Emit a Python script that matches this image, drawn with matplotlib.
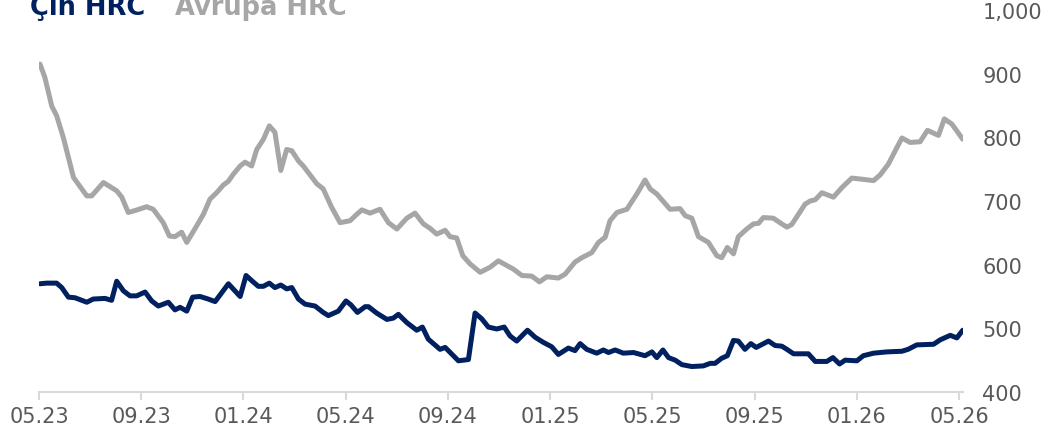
import matplotlib
matplotlib.use("Agg")
import matplotlib.pyplot as plt

plt.rcParams["font.family"] = ["DejaVu Sans"]

# months since 05.2023 (vertices)
eu_months = [0.04, 0.23, 0.50, 0.69, 0.95, 1.35, 1.87, 2.06, 2.52, 3.04, 3.24, 3.49, 3.76, 4.21, 4.47,
             4.86, 5.10, 5.32, 5.58, 5.78, 6.17, 6.43, 6.69, 6.95, 7.21, 7.41, 7.60, 7.87, 8.06, 8.32,
             8.52, 8.78, 9.01, 9.23, 9.46, 9.69, 9.89, 10.15, 10.34, 10.87, 11.12, 11.45, 11.78, 12.17,
             12.43, 12.63, 12.95, 13.34, 13.67, 14.00, 14.39, 14.71, 15.04, 15.30, 15.56, 15.89, 16.08,
             16.34, 16.58, 16.87, 17.26, 17.65, 17.97, 18.56, 18.89, 19.28, 19.58, 19.87, 20.32, 20.58,
             20.97, 21.24, 21.63, 21.89, 22.15, 22.34, 22.61, 23.00, 23.39, 23.71, 23.91, 24.17, 24.69,
             25.08, 25.28, 25.54, 25.80, 26.19, 26.52, 26.71, 26.93, 27.17, 27.36, 27.69, 27.95, 28.15,
             28.34, 28.73, 29.06, 29.26, 29.45, 29.97, 30.17, 30.37, 30.63, 31.08, 31.41, 31.80, 32.25,
             32.65, 32.91, 33.23, 33.50, 33.76, 34.08, 34.47, 34.76, 35.19, 35.42, 35.71, 35.91, 36.14]
eu_hrc = [915, 894, 849, 834, 800, 737, 708, 708, 729, 716, 706, 682, 685, 691, 687,
          666, 645, 644, 651, 635, 661, 679, 703, 713, 725, 731, 742, 755, 761, 755,
          781, 797, 818, 808, 748, 781, 779, 763, 755, 727, 719, 690, 666, 669,
          679, 686, 681, 687, 666, 656, 673, 681, 664, 657, 648, 654, 644,
          642, 614, 601, 588, 596, 606, 593, 583, 582, 573, 581, 579, 585,
          604, 611, 619, 635, 643, 669, 682, 687, 711, 733, 719, 711, 687,
          688, 677, 673, 644, 635, 614, 611, 627, 617, 644, 656, 664, 665,
          674, 673, 664, 659, 663, 695, 700, 702, 713, 706, 721, 736, 734,
          732, 741, 758, 779, 799, 792, 793, 811, 803, 829, 821, 810, 797]

cn_months = [0.04, 0.30, 0.69, 0.89, 1.15, 1.41, 1.87, 2.12, 2.58, 2.84, 3.04, 3.30, 3.56, 3.82, 4.15,
             4.41, 4.67, 5.06, 5.32, 5.52, 5.78, 6.01, 6.30, 6.62, 6.89, 7.41, 7.87, 8.10, 8.32, 8.58,
             8.78, 9.01, 9.23, 9.46, 9.69, 9.89, 10.15, 10.41, 10.80, 11.12, 11.32, 11.71, 12.01, 12.20,
             12.46, 12.76, 12.89, 13.21, 13.61, 13.86, 14.06, 14.39, 14.78, 15.00, 15.23, 15.69, 15.89,
             16.41, 16.80, 17.06, 17.32, 17.58, 17.91, 18.20, 18.43, 18.69, 19.11, 19.41, 19.73, 20.06,
             20.32, 20.71, 20.97, 21.17, 21.43, 21.82, 22.08, 22.28, 22.54, 22.86, 23.26, 23.71, 23.98,
             24.17, 24.41, 24.63, 24.89, 25.15, 25.54, 25.99, 26.26, 26.45, 26.71, 26.93, 27.17, 27.36,
             27.62, 27.85, 28.06, 28.54, 28.80, 29.06, 29.26, 29.52, 30.10, 30.37, 30.82, 31.06, 31.32,
             31.54, 32.00, 32.25, 32.65, 33.17, 33.76, 34.00, 34.34, 35.00, 35.26, 35.65, 35.91, 36.14]
cn_hrc = [570, 571, 571, 564, 549, 548, 541, 546, 547, 544, 574, 559, 551, 551, 557,
          543, 535, 541, 529, 533, 527, 549, 550, 546, 542, 570, 550, 583, 575, 566,
          566, 571, 564, 568, 562, 564, 546, 538, 535, 525, 520, 527, 543, 537,
          525, 534, 534, 524, 514, 516, 522, 509, 497, 502, 483, 467, 470,
          449, 451, 524, 515, 502, 499, 502, 488, 480, 497, 486, 478, 471,
          459, 469, 465, 476, 467, 461, 466, 462, 466, 461, 462, 457, 463,
          454, 466, 454, 450, 443, 440, 441, 445, 445, 453, 457, 481, 480,
          467, 476, 470, 480, 473, 472, 467, 460, 460, 448, 448, 454, 444,
          450, 449, 457, 461, 463, 464, 467, 474, 475, 482, 489, 485, 497]

tick_months = [0, 4, 8, 12, 16, 20, 24, 28, 32, 36]
tick_labels = ["05.23", "09.23", "01.24", "05.24", "09.24", "01.25", "05.25", "09.25", "01.26", "05.26"]
y_ticks = [400, 500, 600, 700, 800, 900, 1000]

NAVY = "#002060"
GREY = "#A6A6A6"
TXT = "#595959"

fig = plt.figure(figsize=(10.48, 4.39), dpi=100)
ax = fig.add_axes([39 / 1048, 1 - 393 / 439, (963 - 39) / 1048, (393 - 11) / 439])

ax.plot(eu_months, eu_hrc, color=GREY, lw=3.6, solid_joinstyle="round", solid_capstyle="round")
ax.plot(cn_months, cn_hrc, color=NAVY, lw=3.6, solid_joinstyle="round", solid_capstyle="round")

ax.set_xlim(0, 36.15)
ax.set_ylim(400, 1000)

for s in ["top", "left", "right"]:
    ax.spines[s].set_visible(False)
ax.spines["bottom"].set_color("#d9d9d9")
ax.spines["bottom"].set_linewidth(1.5)

ax.set_xticks(tick_months)
ax.set_xticklabels(tick_labels)
ax.tick_params(axis="x", length=6, width=1.5, color="#d9d9d9", pad=4, labelsize=15, labelcolor=TXT)

ax.yaxis.tick_right()
ax.set_yticks(y_ticks)
ax.set_yticklabels([f"{v:,}" for v in y_ticks])
ax.tick_params(axis="y", length=0, pad=14, labelsize=15, labelcolor=TXT)

# series names as a header, clipped at the top edge like the source
fig.text(30 / 1048, 1 - 15 / 439, "Çin HRC", color=NAVY, fontsize=18.5, fontweight="bold", va="baseline")
fig.text(175 / 1048, 1 - 15 / 439, "Avrupa HRC", color=GREY, fontsize=18.5, fontweight="bold", va="baseline")

fig.savefig("out.png", dpi=100)
